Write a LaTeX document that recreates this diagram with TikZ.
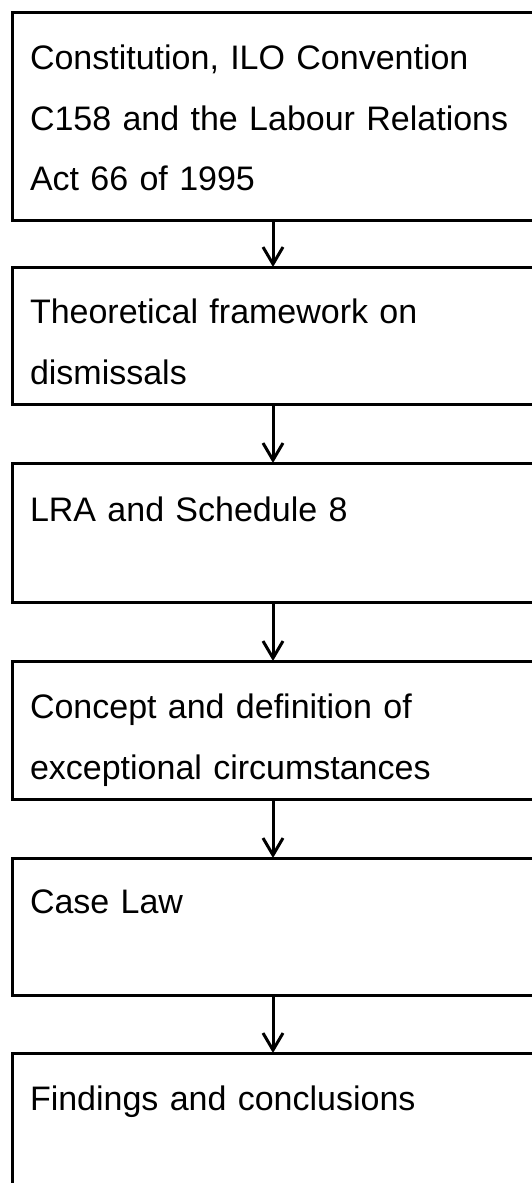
\documentclass[tikz,border=0pt]{standalone}
\usepackage{fontspec}
\setmainfont{Liberation Sans}
\usetikzlibrary{arrows.meta}
\tikzset{
  box/.style={draw=black, line width=3pt, rectangle, minimum width=522pt, inner sep=0pt, outer sep=0pt, anchor=north west},
  boxtext/.style={anchor=north west, inner sep=0pt, outer sep=0pt, text width=500pt, align=left, font=\fontsize{34pt}{60.5pt}\selectfont},
  flow/.style={draw=black, line width=3pt, -{Straight Barb[length=17pt,width=20pt,line width=3pt]}}
}
\begin{document}
\begin{tikzpicture}[x=1pt,y=-1pt]
\useasboundingbox (0,0) rectangle (531,1183);
\fill[white] (0,0) rectangle (531,1183);
\node[box, minimum height=208pt] (b1) at (12,12) {};
\node[box, minimum height=137pt] (b2) at (12,267) {};
\node[box, minimum height=139pt] (b3) at (12,463) {};
\node[box, minimum height=138pt] (b4) at (12,661) {};
\node[box, minimum height=137pt] (b5) at (12,858) {};
\node[box, minimum height=137pt] (b6) at (12,1053) {};
\node[boxtext] (t1) at (30,45) {Constitution, ILO Convention\\C158 and the Labour Relations\\Act 66 of 1995};
\node[boxtext] (t2) at (30,299) {Theoretical framework on\\dismissals};
\node[boxtext] (t3) at (30,497) {LRA and Schedule 8};
\node[boxtext] (t4) at (30,694) {Concept and definition of\\exceptional circumstances};
\node[boxtext] (t5) at (30,890) {Case Law};
\node[boxtext] (t6) at (30,1086) {Findings and conclusions};
\draw[flow] (b1.south) -- (b2.north);
\draw[flow] (b2.south) -- (b3.north);
\draw[flow] (b3.south) -- (b4.north);
\draw[flow] (b4.south) -- (b5.north);
\draw[flow] (b5.south) -- (b6.north);
\end{tikzpicture}
\end{document}
